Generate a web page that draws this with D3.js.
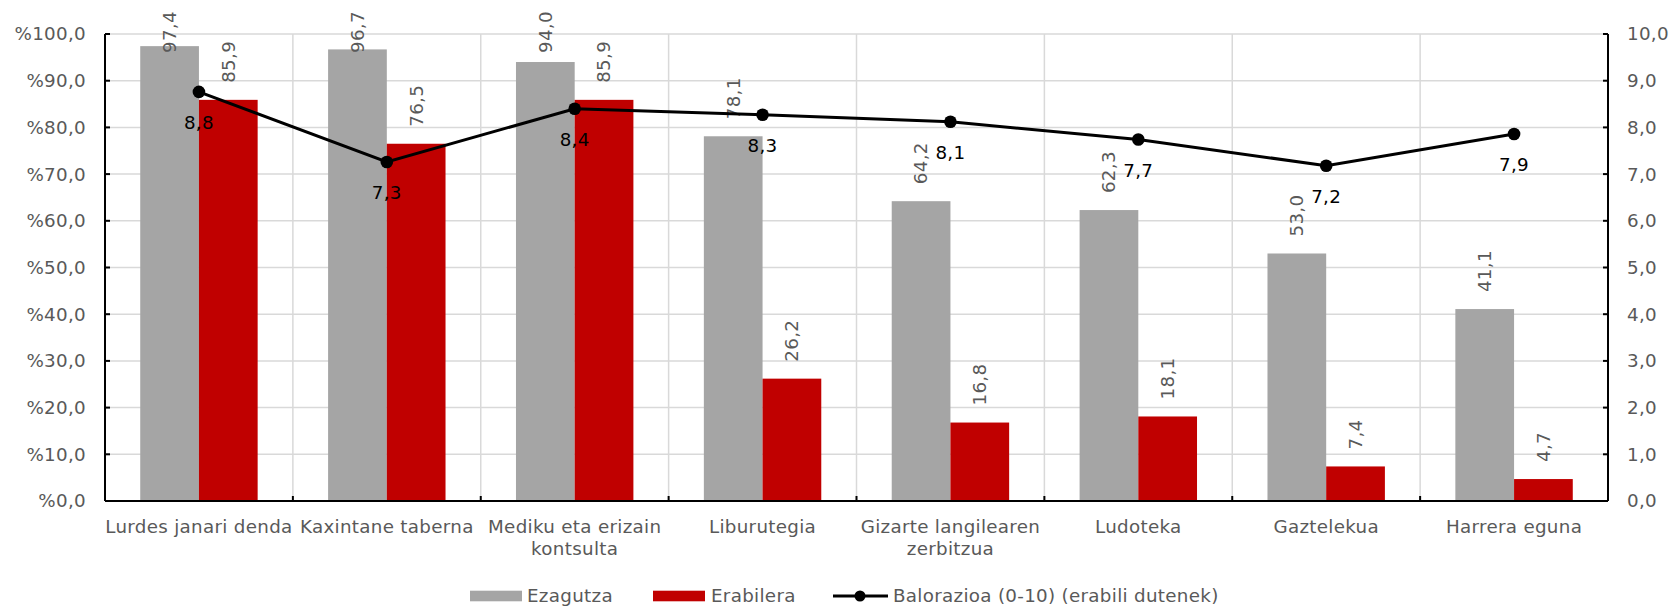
<!DOCTYPE html>
<html>
<head>
<meta charset="utf-8">
<script src="https://cdn.jsdelivr.net/npm/d3@7"></script>
<style>
  body { margin: 0; background: #fff; }
  text { font-family: "DejaVu Sans", Verdana, sans-serif; letter-spacing: 0.3px; }
</style>
</head>
<body>
<div id="chart"></div>
<script>
const categories = ["Lurdes janari denda", "Kaxintane taberna", "Mediku eta erizain\nkontsulta", "Liburutegia",
  "Gizarte langilearen\nzerbitzua", "Ludoteka", "Gaztelekua", "Harrera eguna"];
const seriesNames = ["Ezagutza", "Erabilera"];
const ezagutza = [97.4, 96.7, 94.0, 78.1, 64.2, 62.3, 53.0, 41.1];
const erabilera = [85.9, 76.5, 85.9, 26.2, 16.8, 18.1, 7.4, 4.7];
const balorazioa = [8.76, 7.26, 8.40, 8.27, 8.12, 7.74, 7.18, 7.86];
const lineName = "Balorazioa (0-10) (erabili dutenek)";
const leftTicks = [0, 10, 20, 30, 40, 50, 60, 70, 80, 90, 100];
const rightTicks = [0, 1, 2, 3, 4, 5, 6, 7, 8, 9, 10];

const width = 1672;
const height = 608;
const margin = {top: 34, right: 64, bottom: 107, left: 105};
const colors = {"Ezagutza": "#a5a5a5", "Erabilera": "#c00000"};
const labelColor = "#595959";
const fontSize = 18.3;

const svg = d3.select("#chart")
  .append("svg")
    .attr("width", width)
    .attr("height", height);

const x = d3.scaleBand()
  .domain(categories)
  .range([margin.left, width - margin.right]);

const x1 = d3.scaleBand()
  .domain(seriesNames)
  .range([0, x.bandwidth()])
  .paddingOuter(0.6);

const y = d3.scaleLinear().domain([0, 100]).range([height - margin.bottom, margin.top]);
const y2 = d3.scaleLinear().domain([0, 10]).range([height - margin.bottom, margin.top]);

const fmt = v => d3.format(".1f")(v).replace(".", ",");

// grid
const grid = svg.append("g").attr("stroke", "#d9d9d9").attr("stroke-width", 1.5);
grid.selectAll("line.h")
  .data(leftTicks)
  .join("line")
    .attr("class", "h")
    .attr("x1", margin.left).attr("x2", width - margin.right)
    .attr("y1", d => y(d)).attr("y2", d => y(d));
grid.selectAll("line.v")
  .data(categories.slice(1))
  .join("line")
    .attr("class", "v")
    .attr("x1", d => x(d)).attr("x2", d => x(d))
    .attr("y1", margin.top).attr("y2", y(0));

// bars
const data = categories.map((c, i) => ({cat: c, values: [
  {name: "Ezagutza", value: ezagutza[i]},
  {name: "Erabilera", value: erabilera[i]}
]}));

const groups = svg.append("g").selectAll("g")
  .data(data)
  .join("g")
    .attr("transform", d => "translate(" + x(d.cat) + ",0)");

groups.selectAll("rect")
  .data(d => d.values)
  .join("rect")
    .attr("x", d => x1(d.name))
    .attr("width", x1.bandwidth())
    .attr("y", d => y(d.value))
    .attr("height", d => y(0) - y(d.value))
    .attr("fill", d => colors[d.name]);

// rotated bar labels (pushed down when they would leave the chart)
groups.selectAll("text")
  .data(d => d.values)
  .join("text")
    .attr("transform", d => {
      const cx = x1(d.name) + x1.bandwidth() / 2;
      const by = Math.max(y(d.value) - 17, 53);
      return "translate(" + cx + "," + by + ") rotate(-90)";
    })
    .attr("dy", "0.35em")
    .attr("fill", labelColor)
    .attr("font-size", fontSize)
    .text(d => fmt(d.value));

// axes lines and ticks
const axes = svg.append("g").attr("stroke", "#000").attr("stroke-width", 2);
axes.append("line")
  .attr("x1", margin.left).attr("x2", margin.left)
  .attr("y1", margin.top).attr("y2", y(0));
axes.append("line")
  .attr("x1", width - margin.right).attr("x2", width - margin.right)
  .attr("y1", margin.top).attr("y2", y(0));
axes.append("line")
  .attr("x1", margin.left).attr("x2", width - margin.right)
  .attr("y1", y(0)).attr("y2", y(0));
axes.selectAll("line.lt")
  .data(leftTicks)
  .join("line")
    .attr("class", "lt")
    .attr("x1", margin.left).attr("x2", margin.left + 5)
    .attr("y1", d => y(d)).attr("y2", d => y(d));
axes.selectAll("line.rt")
  .data(rightTicks)
  .join("line")
    .attr("class", "rt")
    .attr("x1", width - margin.right - 5).attr("x2", width - margin.right)
    .attr("y1", d => y2(d)).attr("y2", d => y2(d));
axes.selectAll("line.bt")
  .data(categories.slice(1))
  .join("line")
    .attr("class", "bt")
    .attr("x1", d => x(d)).attr("x2", d => x(d))
    .attr("y1", y(0)).attr("y2", y(0) - 5);

// tick labels
svg.append("g").selectAll("text")
  .data(leftTicks)
  .join("text")
    .attr("x", margin.left - 19)
    .attr("y", d => y(d))
    .attr("dy", "0.35em")
    .attr("text-anchor", "end")
    .attr("fill", labelColor)
    .attr("font-size", fontSize)
    .text(d => "%" + fmt(d));

svg.append("g").selectAll("text")
  .data(rightTicks)
  .join("text")
    .attr("x", width - margin.right + 19)
    .attr("y", d => y2(d))
    .attr("dy", "0.35em")
    .attr("fill", labelColor)
    .attr("font-size", fontSize)
    .text(d => fmt(d));

const catLabels = svg.append("g").selectAll("text")
  .data(categories)
  .join("text")
    .attr("x", d => x(d) + x.bandwidth() / 2)
    .attr("y", y(0) + 32)
    .attr("text-anchor", "middle")
    .attr("fill", labelColor)
    .attr("font-size", fontSize);
catLabels.selectAll("tspan")
  .data(d => d.split("\n"))
  .join("tspan")
    .attr("x", function() { return this.parentNode.getAttribute("x"); })
    .attr("dy", (d, i) => i === 0 ? 0 : 22)
    .text(d => d);

// line
const line = d3.line()
  .x((d, i) => x(categories[i]) + x.bandwidth() / 2)
  .y(d => y2(d));

svg.append("path")
  .datum(balorazioa)
  .attr("fill", "none")
  .attr("stroke", "#000")
  .attr("stroke-width", 3)
  .attr("d", line);

svg.append("g").selectAll("circle")
  .data(balorazioa)
  .join("circle")
    .attr("cx", (d, i) => x(categories[i]) + x.bandwidth() / 2)
    .attr("cy", d => y2(d))
    .attr("r", 6.3)
    .attr("fill", "#000");

svg.append("g").selectAll("text")
  .data(balorazioa)
  .join("text")
    .attr("x", (d, i) => x(categories[i]) + x.bandwidth() / 2)
    .attr("y", d => y2(d) + 31)
    .attr("dy", "0.35em")
    .attr("text-anchor", "middle")
    .attr("fill", "#000")
    .attr("font-size", fontSize)
    .text(d => fmt(d));

// legend
const legend = svg.append("g").attr("transform", "translate(0,596)");
const leg1 = legend.append("g").attr("transform", "translate(470,0)");
leg1.append("rect").attr("x", 0).attr("y", -5.3).attr("width", 52).attr("height", 10.6).attr("fill", colors["Ezagutza"]);
leg1.append("text").attr("x", 57).attr("dy", "0.35em").attr("fill", labelColor).attr("font-size", fontSize).text("Ezagutza");
const leg2 = legend.append("g").attr("transform", "translate(653,0)");
leg2.append("rect").attr("x", 0).attr("y", -5.3).attr("width", 52).attr("height", 10.6).attr("fill", colors["Erabilera"]);
leg2.append("text").attr("x", 58).attr("dy", "0.35em").attr("fill", labelColor).attr("font-size", fontSize).text("Erabilera");
const leg3 = legend.append("g").attr("transform", "translate(833,0)");
leg3.append("line").attr("x1", 0).attr("x2", 55).attr("stroke", "#000").attr("stroke-width", 3);
leg3.append("circle").attr("cx", 27).attr("r", 5.5).attr("fill", "#000");
leg3.append("text").attr("x", 60).attr("dy", "0.35em").attr("fill", labelColor).attr("font-size", fontSize).text(lineName);
</script>
</body>
</html>
